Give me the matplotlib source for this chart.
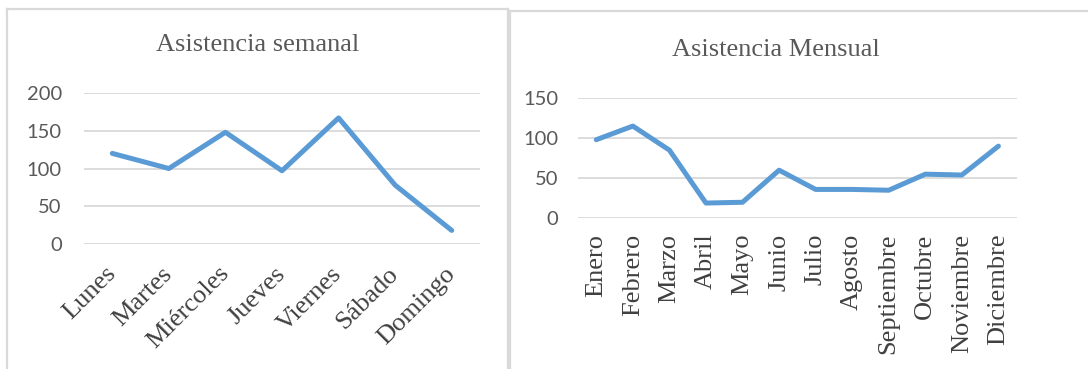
import matplotlib
matplotlib.use('Agg')
import matplotlib.pyplot as plt
from matplotlib.lines import Line2D

# datos semanales
dias = ['Lunes', 'Martes', 'Miércoles', 'Jueves', 'Viernes', 'Sábado', 'Domingo']
asistencia_semanal = [120, 100, 148, 97, 167, 78, 18]

# datos mensuales
meses = ['Enero', 'Febrero', 'Marzo', 'Abril', 'Mayo', 'Junio', 'Julio',
         'Agosto', 'Septiembre', 'Octubre', 'Noviembre', 'Diciembre']
asistencia_mensual = [98, 115, 85, 19, 20, 60, 36, 36, 35, 55, 54, 90]

W, H = 1088, 369
azul = '#5B9BD5'
gris_grid = '#D9D9D9'
gris_txt = '#595959'
serif = 'Liberation Serif'
sans = 'Lato'

fig = plt.figure(figsize=(W / 100, H / 100), dpi=100)
fig.patch.set_facecolor('white')

# marcos de los graficos
def marco(x0, x1, y0, lados=True):
    fy = 1 - y0 / H
    fig.add_artist(Line2D([x0 / W, x1 / W], [fy, fy], color=gris_grid, lw=1.6,
                          transform=fig.transFigure))
    if lados:
        fig.add_artist(Line2D([x0 / W, x0 / W], [fy, 0], color=gris_grid, lw=1.6,
                              transform=fig.transFigure))
        fig.add_artist(Line2D([x1 / W, x1 / W], [fy, 0], color=gris_grid, lw=1.6,
                              transform=fig.transFigure))

marco(7, 508, 9)
marco(510, 1088, 11, lados=False)
fig.add_artist(Line2D([510 / W, 510 / W], [1 - 11 / H, 0], color=gris_grid, lw=1.6,
                      transform=fig.transFigure))


def estilo(ax, ymax, step):
    ax.set_ylim(0, ymax)
    ax.set_yticks(range(0, ymax + 1, step))
    ax.grid(axis='y', color=gris_grid, lw=1.3)
    ax.set_axisbelow(True)
    for s in ax.spines.values():
        s.set_visible(False)
    ax.tick_params(axis='both', length=0)
    for t in ax.get_yticklabels():
        t.set_fontfamily(sans)
        t.set_fontsize(14.5)
        t.set_color(gris_txt)


# semanal
ax1 = fig.add_axes([84 / W, 1 - 244 / H, (480 - 84) / W, (244 - 93) / H])
x1 = range(len(dias))
ax1.plot(x1, asistencia_semanal, color=azul, lw=3.6, solid_capstyle='round',
         solid_joinstyle='round')
ax1.set_xlim(-0.5, len(dias) - 0.5)
ax1.set_xticks(list(x1))
ax1.set_xticklabels(dias, rotation=45, ha='right', va='center',
                    rotation_mode='anchor', fontfamily=serif, fontsize=19,
                    color='#404040')
estilo(ax1, 200, 50)
ax1.tick_params(axis='y', pad=16)
ax1.tick_params(axis='x', pad=19)
fig.text(258 / W, 1 - 45 / H, 'Asistencia semanal', ha='center', va='center',
         fontfamily=serif, fontsize=19, color=gris_txt)

# mensual
ax2 = fig.add_axes([578 / W, 1 - 218.3 / H, (1016.7 - 578) / W, (218.3 - 98) / H])
x2 = range(len(meses))
ax2.plot(x2, asistencia_mensual, color=azul, lw=3.6, solid_capstyle='round',
         solid_joinstyle='round')
ax2.set_xlim(-0.5, len(meses) - 0.5)
ax2.set_xticks(list(x2))
ax2.set_xticklabels(meses, rotation=90, ha='center', va='top',
                    fontfamily=serif, fontsize=19, color='#404040')
estilo(ax2, 150, 50)
ax2.tick_params(axis='y', pad=14)
ax2.tick_params(axis='x', pad=11)
fig.text(776 / W, 1 - 50 / H, 'Asistencia Mensual', ha='center', va='center',
         fontfamily=serif, fontsize=19, color=gris_txt)

fig.savefig('out.png', dpi=100)
